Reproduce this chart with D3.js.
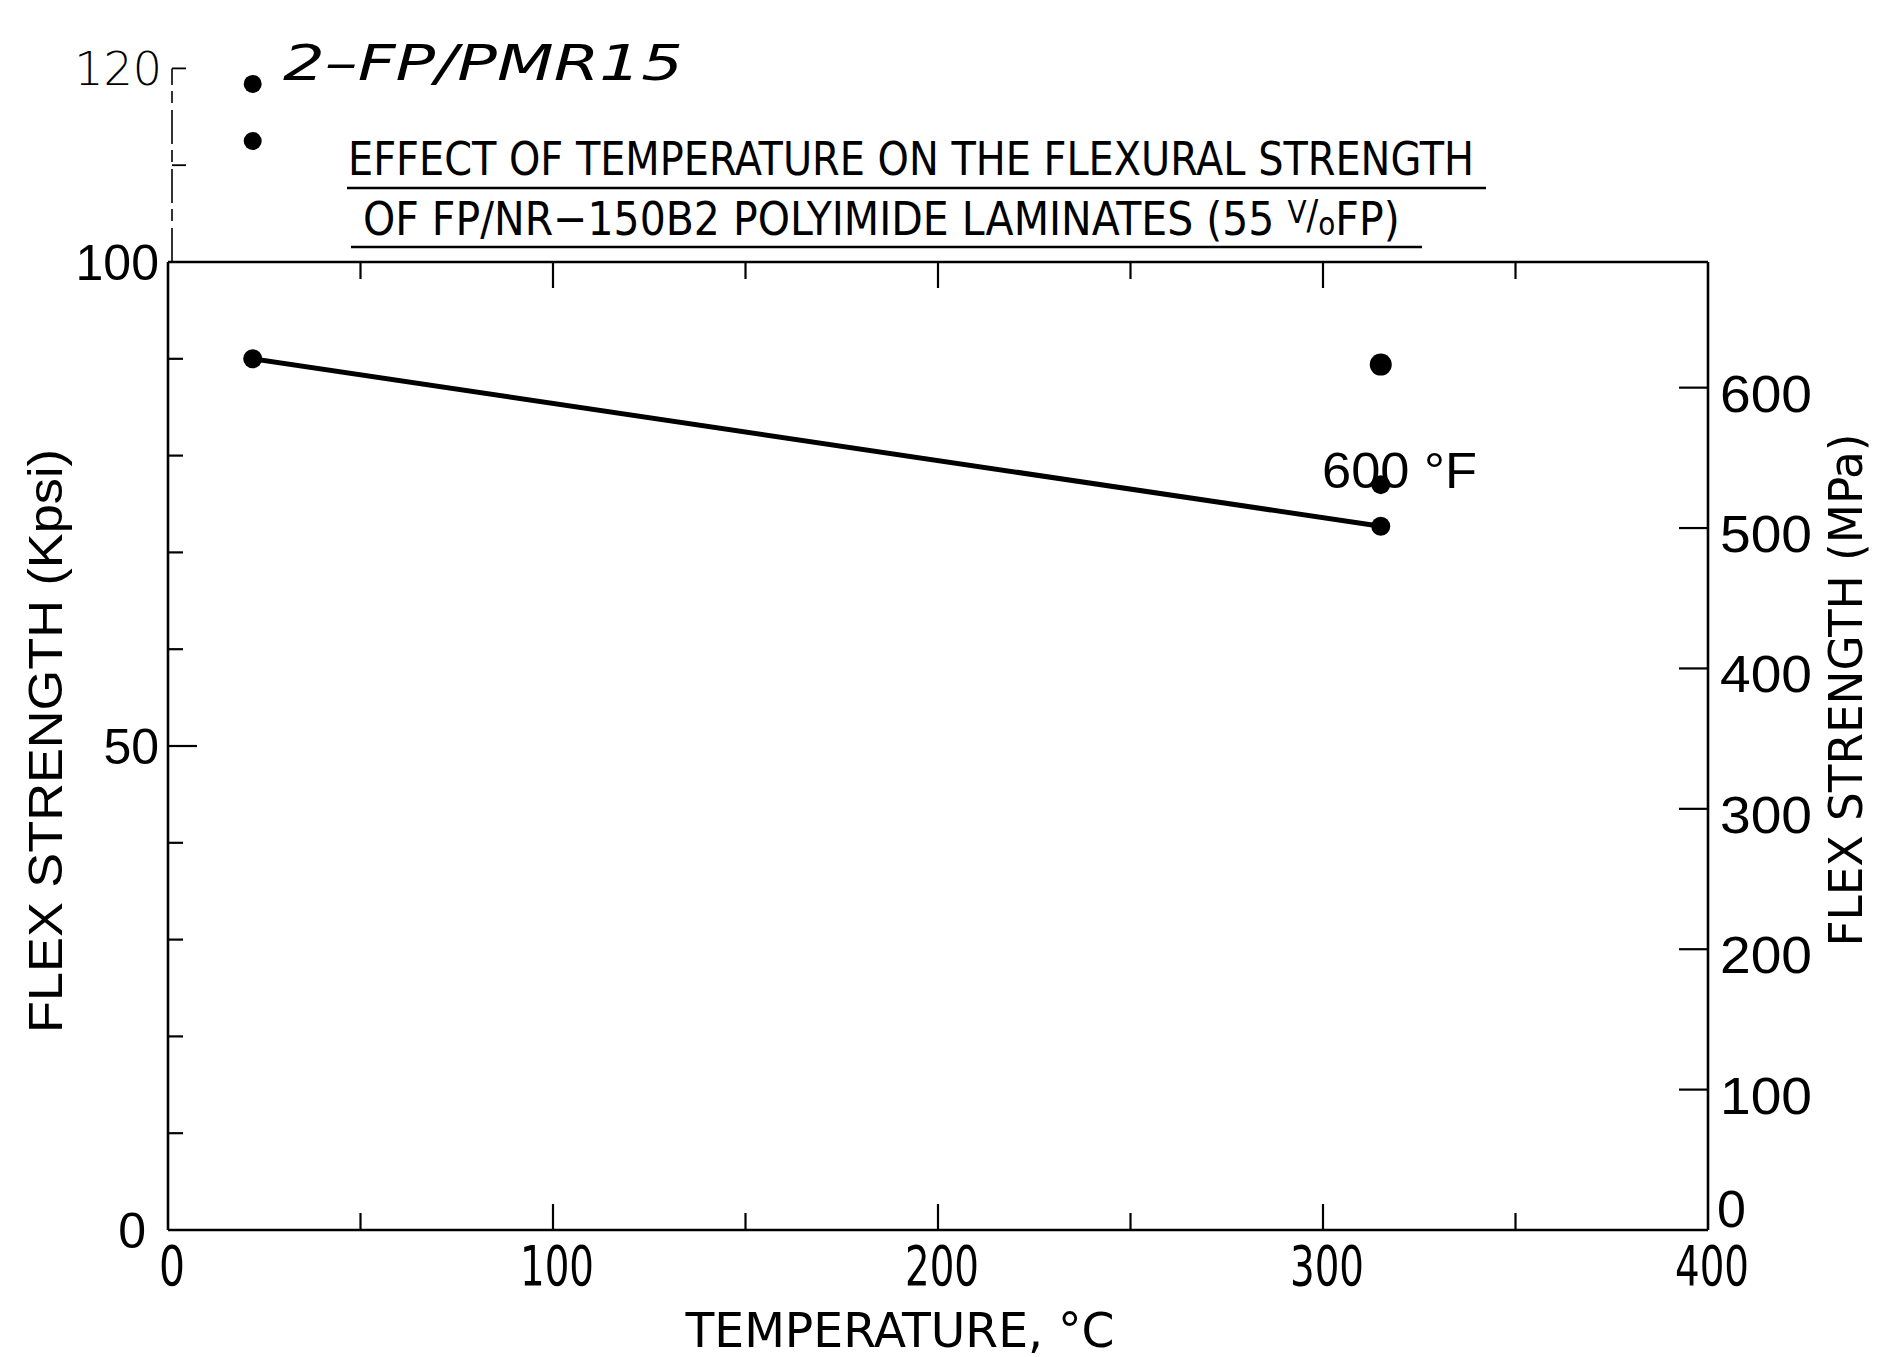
<!DOCTYPE html>
<html>
<head>
<meta charset="utf-8">
<script src="https://cdn.jsdelivr.net/npm/d3@7"></script>
<style>
  html, body { margin: 0; padding: 0; background: #fff; }
  svg { display: block; }
</style>
</head>
<body>
<svg id="chart" width="1879" height="1357"></svg>
<script>
// ---------------- DATA ----------------
const titleLines = [
  "EFFECT OF TEMPERATURE ON THE FLEXURAL STRENGTH",
  "OF FP/NR\u2212150B2 POLYIMIDE LAMINATES (55 "
];
const xLabel = "TEMPERATURE, \u00B0C";
const yLabelLeft = "FLEX STRENGTH (Kpsi)";
const yLabelRight = "FLEX STRENGTH (MPa)";
const annotation600F = "600 \u00B0F";
const handNote = "2\u2013FP/PMR15";

// NR-150B2 line (temperature °C, flex strength ksi)
const lineTemps = [22, 315];
const lineFlex = [90.0, 72.7];
// isolated points at 600°F
const pointTemps = [315, 315];
const pointFlex = [89.4, 77.0];
// hand-added FP/PMR15 points
const pmrTemps = [22, 22];
const pmrFlex = [118.4, 112.5];

const xMajorTicks = [0, 100, 200, 300, 400];
const xMinorTicks = [50, 150, 250, 350];
const kpsiTicks = [0, 10, 20, 30, 40, 50, 60, 70, 80, 90, 100];
const kpsiLabels = [0, 50, 100];
const kpsiExtTicks = [110, 120];
const kpsiExtLabels = [120];
const mpaTicks = [0, 100, 200, 300, 400, 500, 600];
const ksiToMpa = 6.895;

// ---------------- LAYOUT ----------------
const svg = d3.select("#chart");
const X0 = 168, X1 = 1708, Y0 = 1230, Y1 = 262;
const x = d3.scaleLinear().domain([0, 400]).range([X0, X1]);
const y = d3.scaleLinear().domain([0, 100]).range([Y0, Y1]);
const yM = d3.scaleLinear().domain([0, 100 * ksiToMpa]).range([Y0, Y1]);

const roundFont = "'Liberation Sans', Arial, sans-serif";
const narrowFont = "'Liberation Sans Narrow', 'DejaVu Sans Condensed', 'Liberation Sans', sans-serif";
const handFont = "'DejaVu Sans', sans-serif";

function fitH(sel, w) {
  sel.attr("textLength", w).attr("lengthAdjust", "spacingAndGlyphs");
  return sel;
}

// ---------------- FRAME ----------------
const frame = svg.append("g").attr("stroke", "#000").attr("stroke-width", 2.6).attr("fill", "none");
frame.append("line").attr("x1", x(0)).attr("x2", x(400)).attr("y1", y(0)).attr("y2", y(0));
frame.append("line").attr("x1", x(0)).attr("x2", x(400)).attr("y1", y(100)).attr("y2", y(100));
frame.append("line").attr("x1", x(0)).attr("x2", x(0)).attr("y1", y(0)).attr("y2", y(100));
frame.append("line").attr("x1", x(400)).attr("x2", x(400)).attr("y1", y(0)).attr("y2", y(100));

// hand-drawn extension of the left axis to 120
svg.append("line")
  .attr("x1", x(0) + 4).attr("x2", x(0) + 4)
  .attr("y1", y(100)).attr("y2", y(120))
  .attr("stroke", "#000").attr("stroke-width", 1.6)
  .attr("stroke-dasharray", "34,7,12,6");
svg.append("g").selectAll("line").data(kpsiExtTicks).join("line")
  .attr("x1", x(0) + 4).attr("x2", x(0) + 18)
  .attr("y1", d => y(d)).attr("y2", d => y(d))
  .attr("stroke", "#000").attr("stroke-width", 1.8);
svg.append("g").selectAll("text").data(kpsiExtLabels).join("text")
  .attr("x", x(0) - 6).attr("y", d => y(d) + 17)
  .attr("text-anchor", "end")
  .attr("font-family", handFont).attr("font-weight", 300)
  .attr("font-size", 46).attr("fill", "#000")
  .text(d => d);

// ---------------- TICKS ----------------
const tickG = svg.append("g").attr("stroke", "#000").attr("stroke-width", 2.2);
// bottom (inward, up)
tickG.selectAll(".bmaj").data(xMajorTicks.filter(d => d > 0 && d < 400)).join("line")
  .attr("x1", d => x(d)).attr("x2", d => x(d)).attr("y1", y(0)).attr("y2", y(0) - 26);
tickG.selectAll(".bmin").data(xMinorTicks).join("line")
  .attr("x1", d => x(d)).attr("x2", d => x(d)).attr("y1", y(0)).attr("y2", y(0) - 17);
// top (inward, down)
tickG.selectAll(".tmaj").data(xMajorTicks.filter(d => d > 0 && d < 400)).join("line")
  .attr("x1", d => x(d)).attr("x2", d => x(d)).attr("y1", y(100)).attr("y2", y(100) + 26);
tickG.selectAll(".tmin").data(xMinorTicks).join("line")
  .attr("x1", d => x(d)).attr("x2", d => x(d)).attr("y1", y(100)).attr("y2", y(100) + 17);
// left (inward, right)
tickG.selectAll(".lt").data(kpsiTicks.filter(d => d > 0 && d < 100)).join("line")
  .attr("x1", x(0)).attr("x2", d => x(0) + (d === 50 ? 29 : 15))
  .attr("y1", d => y(d)).attr("y2", d => y(d));
// right (inward, left) MPa
tickG.selectAll(".rt").data(mpaTicks.filter(d => d > 0)).join("line")
  .attr("x1", x(400)).attr("x2", x(400) - 29)
  .attr("y1", d => yM(d)).attr("y2", d => yM(d));

// ---------------- TICK LABELS ----------------
svg.append("g").selectAll("text").data(kpsiLabels).join("text")
  .attr("x", d => d === 0 ? x(0) - 22 : x(0) - 9)
  .attr("y", d => y(d) + 18)
  .attr("text-anchor", "end")
  .attr("font-family", roundFont).attr("font-size", 50).attr("fill", "#000")
  .text(d => d);

svg.append("g").selectAll("text").data(mpaTicks).join("text")
  .attr("x", d => d === 0 ? x(400) + 9 : x(400) + 12)
  .attr("y", d => (d === 0 ? yM(d) - 22 : yM(d) + 5) + 19)
  .attr("text-anchor", "start")
  .attr("font-family", roundFont).attr("font-size", 52).attr("fill", "#000")
  .each(function (d) {
    d3.select(this).text(d);
    if (d > 0) fitH(d3.select(this), 92);
  });

svg.append("g").selectAll("text").data(xMajorTicks).join("text")
  .attr("x", d => x(d) + 4)
  .attr("y", y(0) + 55)
  .attr("text-anchor", "middle")
  .attr("font-family", narrowFont).attr("font-size", 55).attr("fill", "#000")
  .each(function (d) {
    d3.select(this).text(d);
    fitH(d3.select(this), d === 0 ? 26 : 74);
  });

// ---------------- AXIS TITLES ----------------
fitH(svg.append("text")
  .attr("x", 900).attr("y", 1347)
  .attr("text-anchor", "middle")
  .attr("font-family", narrowFont).attr("font-size", 48).attr("fill", "#000")
  .text(xLabel), 429);

fitH(svg.append("text")
  .attr("transform", "translate(62,741) rotate(-90)")
  .attr("text-anchor", "middle")
  .attr("font-family", roundFont).attr("font-size", 48).attr("fill", "#000")
  .text(yLabelLeft), 584);

fitH(svg.append("text")
  .attr("transform", "translate(1862,690) rotate(-90)")
  .attr("text-anchor", "middle")
  .attr("font-family", narrowFont).attr("font-size", 47).attr("fill", "#000")
  .text(yLabelRight), 513);

// ---------------- TITLE ----------------
fitH(svg.append("text")
  .attr("x", 348).attr("y", 175)
  .attr("font-family", narrowFont).attr("font-size", 47).attr("fill", "#000")
  .text(titleLines[0]), 1126);
svg.append("line").attr("x1", 347).attr("x2", 1486).attr("y1", 188).attr("y2", 188)
  .attr("stroke", "#000").attr("stroke-width", 2.6);

const t2g = svg.append("g");
const t2 = t2g.append("text")
  .attr("x", 0).attr("y", 0)
  .attr("font-family", narrowFont).attr("font-size", 47).attr("fill", "#000");
t2.append("tspan").text(titleLines[1]);
t2.append("tspan").attr("font-size", 32).attr("dy", -12).text("V");
t2.append("tspan").attr("font-size", 40).attr("dy", 6).text("/");
t2.append("tspan").attr("font-size", 32).attr("dy", 6).text("o");
t2.append("tspan").attr("dy", 0).text("FP)");
const t2w = t2.node().getBBox().width;
t2g.attr("transform", `translate(363,235) scale(${1037 / t2w},1)`);
svg.append("line").attr("x1", 351).attr("x2", 1422).attr("y1", 247).attr("y2", 247)
  .attr("stroke", "#000").attr("stroke-width", 2.6);

// ---------------- DATA MARKS ----------------
const lineData = lineTemps.map((t, i) => [t, lineFlex[i]]);
svg.append("path")
  .datum(lineData)
  .attr("d", d3.line().x(d => x(d[0])).y(d => y(d[1])))
  .attr("stroke", "#000").attr("stroke-width", 5).attr("fill", "none");
svg.append("g").selectAll("circle").data(lineData).join("circle")
  .attr("cx", d => x(d[0])).attr("cy", d => y(d[1])).attr("r", 9.5).attr("fill", "#000");

svg.append("g").selectAll("circle").data(pointTemps.map((t, i) => [t, pointFlex[i]])).join("circle")
  .attr("cx", d => x(d[0])).attr("cy", d => y(d[1]))
  .attr("r", (d, i) => i === 0 ? 11 : 9.5).attr("fill", "#000");

svg.append("g").selectAll("circle").data(pmrTemps.map((t, i) => [t, pmrFlex[i]])).join("circle")
  .attr("cx", d => x(d[0])).attr("cy", d => y(d[1])).attr("r", 9).attr("fill", "#000");

// ---------------- ANNOTATIONS ----------------
fitH(svg.append("text")
  .attr("x", 1322).attr("y", 488)
  .attr("font-family", roundFont).attr("font-size", 50).attr("fill", "#000")
  .text(annotation600F), 155);

fitH(svg.append("text")
  .attr("x", 283).attr("y", 80)
  .attr("font-family", handFont).attr("font-weight", 200).attr("font-style", "italic")
  .attr("font-size", 50).attr("fill", "#000")
  .text(handNote), 400);
</script>
</body>
</html>
